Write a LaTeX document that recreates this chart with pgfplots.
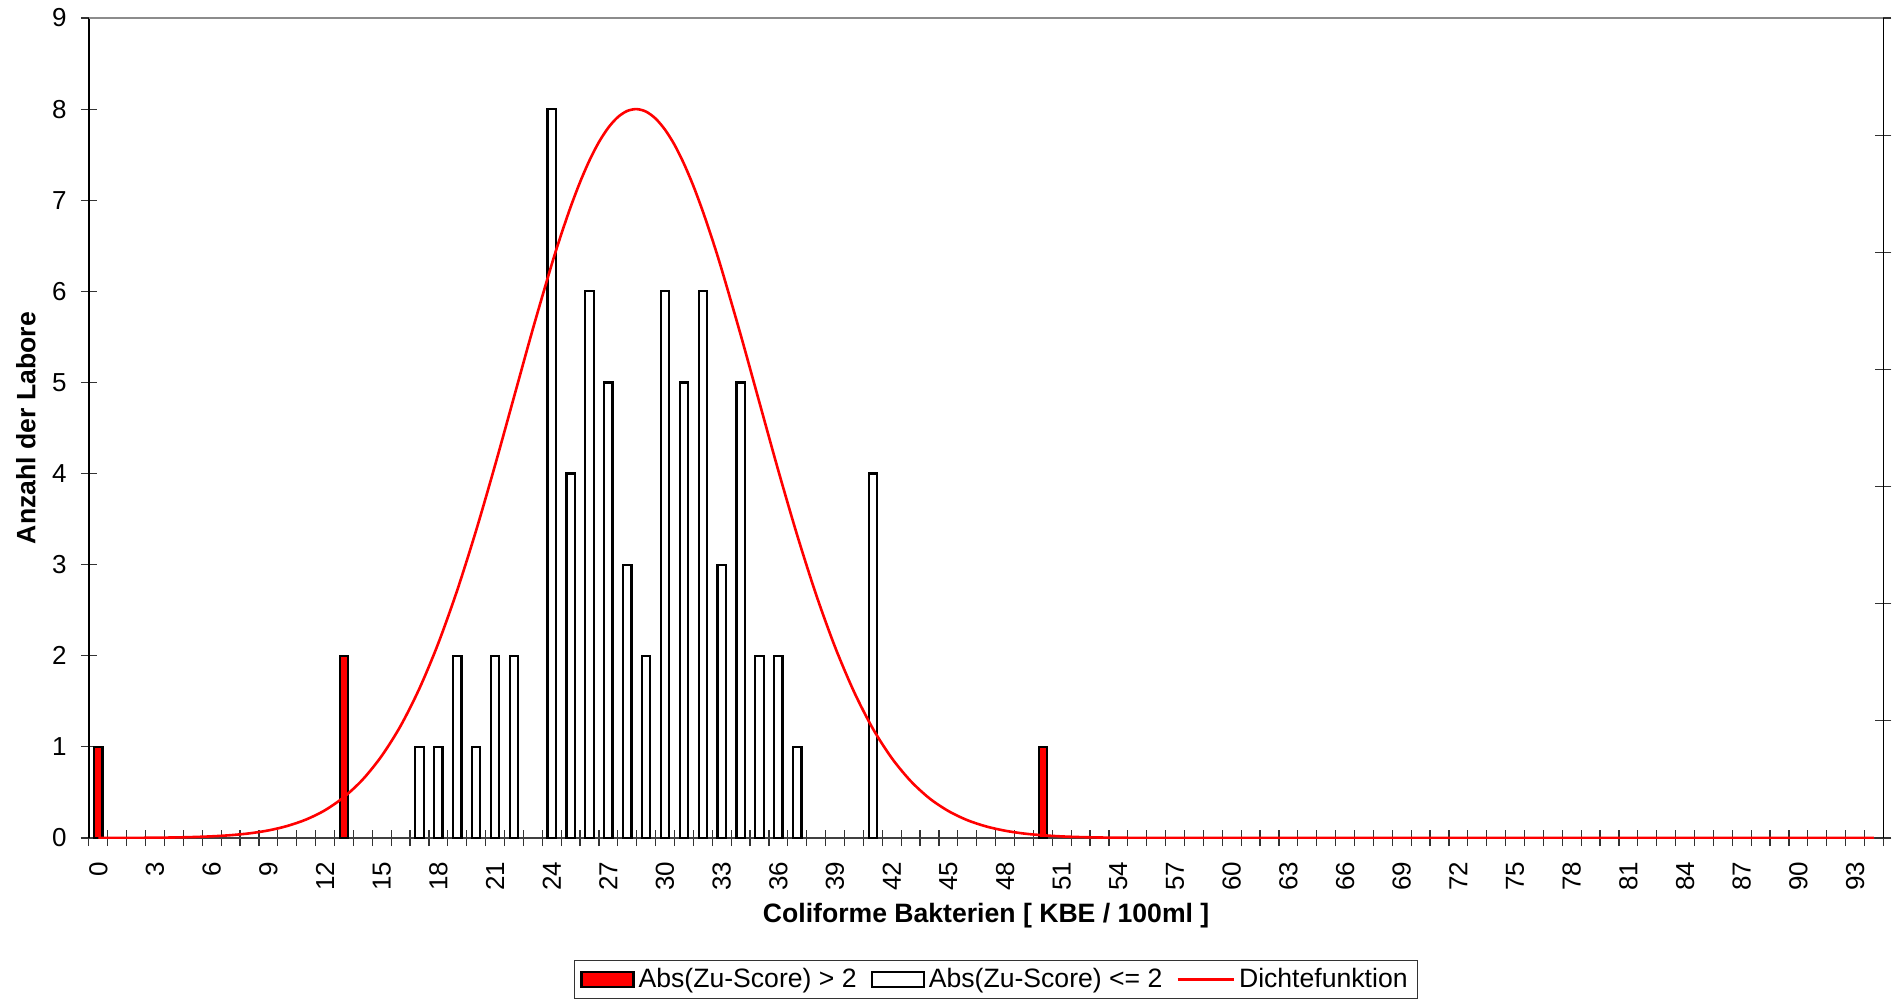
\documentclass[border=0pt]{standalone}
\usepackage{pgfplots}
\pgfplotsset{compat=1.18}
\usepackage{fontspec}
\setmainfont{Liberation Sans}
\usetikzlibrary{calc}
\definecolor{xlred}{RGB}{255,0,0}
\begin{document}
\begin{tikzpicture}
\begin{axis}[
  name=ax,
  scale only axis,
  width=897.25pt, height=410pt,
  xmin=-0.5, xmax=94.5,
  ymin=0, ymax=9,
  axis x line*=bottom,
  axis y line*=left,
  x axis line style={black!75, line width=0.8pt},
  y axis line style={black, line width=0.8pt},
  ytick={0,1,...,9},
  xtick={-0.5,0.5,...,94.5},
  xticklabels={},
  extra x ticks={0,3,...,93},
  extra x tick style={major tick length=0pt},
  tick align=center,
  major tick length=8pt,
  tick style={black!80, line width=0.6pt},
  /pgf/number format/assume math mode=true,
  tick label style={font=\fontsize{13}{15}\selectfont},
  xticklabel style={rotate=90, anchor=east, inner sep=0pt},
  xticklabel shift=11.8pt,
  yticklabel style={anchor=east, inner sep=0pt},
  yticklabel shift=7pt,
  xlabel={Coliforme Bakterien [ KBE / 100ml ]},
  ylabel={Anzahl der Labore},
  label style={font=\fontsize{13.3}{15}\selectfont\bfseries},
  xlabel style={at={(axis description cs:0.5,-0.0948)}, anchor=center},
  ylabel style={at={(axis description cs:-0.0351,0.5)}, anchor=center},
  legend columns=3,
  legend style={at={(axis description cs:0.5055,-0.1728)}, anchor=center,
    draw=black!80, line width=0.6pt, font=\fontsize{13.3}{15}\selectfont,
    inner xsep=3pt, inner ysep=2pt,
    /tikz/every even column/.append style={column sep=5pt}},
]
\addplot[ybar, bar shift=0pt, bar width=0.44, fill=xlred, draw=black, line width=1.1pt,
  legend image code/.code={\draw[fill=xlred, draw=black, line width=1.1pt] (0pt,-3.75pt) rectangle (26pt,3.75pt);}]
  coordinates {(0,1) (13,2) (50,1)};
\addlegendentry{Abs(Zu-Score) > 2}
\addplot[ybar, bar shift=0pt, bar width=0.44, fill=white, draw=black, line width=1.1pt,
  legend image code/.code={\draw[fill=white, draw=black, line width=1.1pt] (0pt,-3.75pt) rectangle (26pt,3.75pt);}]
  coordinates {(17,1) (18,1) (19,2) (20,1) (21,2) (22,2) (24,8) (25,4) (26,6) (27,5)
    (28,3) (29,2) (30,6) (31,5) (32,6) (33,3) (34,5) (35,2) (36,2) (37,1) (41,4)};
\addlegendentry{Abs(Zu-Score) <= 2}
\addplot[xlred, line width=1.3pt, smooth, no markers,
  legend image code/.code={\draw[xlred, line width=1.3pt] (0pt,0pt) -- (28pt,0pt);}]
  coordinates {(0,0.0005) (1,0.0009) (2,0.0017) (3,0.0032) (4,0.0059) (5,0.0105) (6,0.0183)
    (7,0.031) (8,0.051) (9,0.083) (10,0.132) (11,0.203) (12,0.305) (13,0.449) (14,0.643)
    (15,0.901) (16,1.230) (17,1.642) (18,2.139) (19,2.720) (20,3.376) (21,4.090) (22,4.837)
    (23,5.585) (24,6.295) (24.5,6.622) (25,6.925) (25.5,7.198) (26,7.437) (26.5,7.638)
    (27,7.797) (27.5,7.912) (28,7.980) (28.5,8.000) (29,7.972) (29.5,7.896)
    (30,7.774) (30.5,7.609) (31,7.401) (31.5,7.157) (32,6.878) (32.5,6.571) (33,6.240)
    (34,5.526) (35,4.778) (36,4.031) (37,3.321)
    (38,2.670) (39,2.097) (40,1.607) (41,1.201) (42,0.878) (43,0.626) (44,0.435) (45,0.296)
    (46,0.196) (47,0.127) (48,0.080) (49,0.049) (50,0.030) (51,0.0175) (52,0.010) (53,0.0056)
    (54,0.003) (55,0.0016) (56,0.0009) (58,0.0002) (60,0.0001) (70,0) (80,0) (94,0)};
\addlegendentry{Dichtefunktion}
\end{axis}
\begin{axis}[
  scale only axis,
  width=897.25pt, height=410pt,
  xmin=-0.5, xmax=94.5,
  ymin=0, ymax=7,
  axis x line*=top,
  axis y line*=right,
  x axis line style={black!45, line width=0.8pt},
  y axis line style={black, line width=0.8pt},
  xtick=\empty,
  ytick={0,1,...,7},
  yticklabels={},
  tick align=center,
  major tick length=8pt,
  tick style={black!80, line width=0.6pt},
]
\end{axis}
\pgfresetboundingbox
\path ($(ax.south west)+(-44.45pt,-81.5pt)$) rectangle ($(ax.north east)+(5.3pt,9pt)$);
\end{tikzpicture}
\end{document}
